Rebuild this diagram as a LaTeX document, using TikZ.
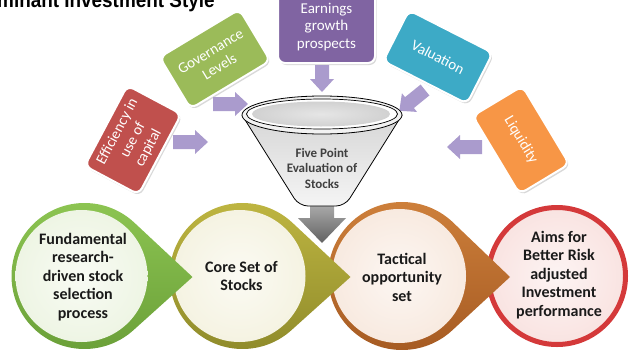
\documentclass[tikz,border=0pt]{standalone}
\usepackage{fontspec}
\setmainfont{Carlito}
\newfontfamily\titlefont{Liberation Sans}
\usetikzlibrary{shadows,calc}
\definecolor{cRed}{HTML}{C0504D}
\definecolor{cGreen}{HTML}{9BBB59}
\definecolor{cPurple}{HTML}{8064A2}
\definecolor{cTeal}{HTML}{3DAAC6}
\definecolor{cOrange}{HTML}{F79646}
\definecolor{lav}{HTML}{AA9BCD}
\definecolor{gL}{HTML}{8EC653}
\definecolor{gD}{HTML}{6A9F38}
\definecolor{gIn}{HTML}{EEF5E4}
\definecolor{oL}{HTML}{C0B742}
\definecolor{oD}{HTML}{8E8A2A}
\definecolor{oIn}{HTML}{F5F3E2}
\definecolor{tL}{HTML}{CF813C}
\definecolor{tD}{HTML}{A55A22}
\definecolor{tIn}{HTML}{F8EAE0}
\definecolor{rRim}{HTML}{D4393A}
\definecolor{rIn}{HTML}{F9E3E1}
\definecolor{txt}{HTML}{1A1A1A}
\tikzset{
  card/.style={rectangle, rounded corners=7pt, draw=white, line width=2pt,
    text=white, align=center, inner sep=2pt,
    font=\fontsize{15}{17.5}\selectfont,
    drop shadow={shadow xshift=1.5pt, shadow yshift=-2pt, opacity=0.3}},
  blockarr/.pic={\fill[lav] (0,-7) -- ({#1-13},-7) -- ({#1-13},-12) -- (#1,0)
      -- ({#1-13},12) -- ({#1-13},7) -- (0,7) -- cycle;},
  circtext/.style={align=center, text=txt, inner sep=0pt,
    font=\bfseries\fontsize{16}{18.5}\selectfont},
  innerdisc/.style={circle, inner sep=0pt, minimum size=132pt}
}
\begin{document}
\begin{tikzpicture}[x=1pt,y=-1pt]
\useasboundingbox (0,0) rectangle (631,356);
\clip (0,0) rectangle (631,356);

% title (cut off at the top)
\node[anchor=base west, inner sep=0pt] (title) at (-3,8)
  {\titlefont\bfseries\fontsize{21}{21}\selectfont\scalebox{0.9}[1]{minant Investment Style}};

% five criteria boxes
\node[card, fill=cRed, minimum width=91pt, minimum height=61pt, rotate=62]
  (eff) at (133,140) {Efficiency in\\use of\\capital};
\node[card, fill=cGreen, minimum width=93pt, minimum height=60pt, rotate=31]
  (gov) at (215,59) {Governance\\Levels};
\node[card, fill=cPurple, minimum width=97pt, minimum height=72pt]
  (earn) at (326.5,27) {Earnings\\growth\\prospects};
\node[card, fill=cTeal, minimum width=94pt, minimum height=57pt, rotate=-27]
  (val) at (438,57) {Valuation};
\node[card, fill=cOrange, minimum width=91pt, minimum height=58pt, rotate=-59]
  (liq) at (521,140) {Liquidity};

% lavender arrows into the funnel
\pic (aEff) at (173,142) {blockarr=35};
\pic (aGov) at (213,104) {blockarr=35};
\pic[rotate=-90] (aEarn) at (322,65) {blockarr=27};
\pic[rotate=-141] (aVal) at (425,90) {blockarr=33};
\pic[rotate=180] (aLiq) at (482,147) {blockarr=35};

% grey arrow out of the funnel
\shade[top color=black!22, bottom color=black!62]
  (310,190) -- (334,190) -- (334,218) -- (346,218) -- (322,243) -- (298,218) -- (310,218) -- cycle;

% funnel
\shade[top color=black!16, bottom color=black!4, draw=black, line width=0.8pt, rounded corners=9pt]
  (242,115) -- (299,206) -- (345,206) -- (402,115);
\filldraw[fill=black!5, draw=black, line width=0.8pt] (322,115) ellipse [x radius=80, y radius=19];
\filldraw[fill=white, draw=black, line width=0.7pt] (322,114) ellipse [x radius=75.5, y radius=15];
\shade[inner color=black!10, outer color=black!18] (321,114) ellipse [x radius=69, y radius=12.5];
\node[align=center, text=black!75, inner sep=0pt, font=\bfseries\fontsize{13}{15.5}\selectfont]
  (funneltext) at (322,168) {Five Point\\Evaluation of\\Stocks};

% red circle (last in the chain)
\node[circle, draw=rRim, line width=5pt, minimum size=137pt, inner sep=0pt,
  inner color=rIn!40!white, outer color=rIn] (cR) at (557,276) {};
\node[circtext] (tR) at (559,275) {Aims for\\Better Risk\\adjusted\\Investment\\performance};

% orange teardrop
\begin{scope}[shift={(402,276)}, x=1pt, y=1pt]
  \shade[top color=tL, bottom color=tD] (108,-1) -- (47.5:74) arc[start angle=47.5, end angle=312.5, radius=74] -- cycle;
  \node[innerdisc, minimum size=134pt, inner color=tIn!40!white, outer color=tIn] (cT) at (-3,0) {};
  \node[circtext] (tT) at (0,-1) {Tactical\\opportunity\\set};
\end{scope}

% olive teardrop
\begin{scope}[shift={(242.5,276)}, x=1pt, y=1pt]
  \shade[top color=oL, bottom color=oD] (108,-1) -- (47.5:73) arc[start angle=47.5, end angle=312.5, radius=73] -- cycle;
  \node[innerdisc, inner color=oIn!40!white, outer color=oIn] (cO) at (-3,0) {};
  \node[circtext] (tO) at (-1,0) {Core Set of\\Stocks};
\end{scope}

% green teardrop
\begin{scope}[shift={(84.5,276)}, x=1pt, y=1pt]
  \shade[top color=gL, bottom color=gD] (108,-1) -- (47.5:73) arc[start angle=47.5, end angle=312.5, radius=73] -- cycle;
  \node[innerdisc, inner color=gIn!40!white, outer color=gIn] (cG) at (-3,0) {};
  \node[circtext] (tG) at (-1.5,-1) {Fundamental\\research-\\driven stock\\selection\\process};
\end{scope}
\end{tikzpicture}
\end{document}
